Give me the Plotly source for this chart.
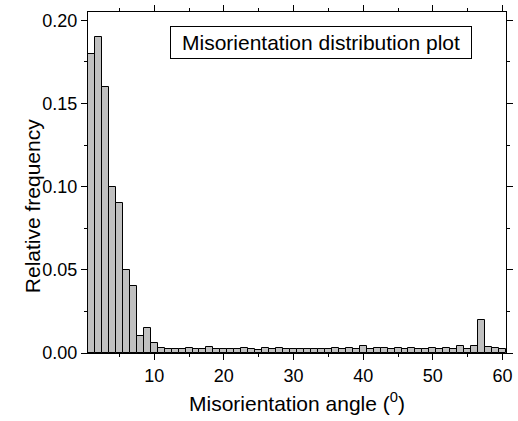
import plotly.graph_objects as go

angles = list(range(1, 61))
frequency = [
    0.18, 0.19, 0.16, 0.10, 0.09, 0.05, 0.04, 0.01, 0.015, 0.006,
    0.0033, 0.0022, 0.0022, 0.0022, 0.003, 0.0022, 0.0022, 0.0035, 0.0022, 0.0022,
    0.0022, 0.0022, 0.003, 0.0022, 0.002, 0.0028, 0.0022, 0.0028, 0.0022, 0.0022,
    0.0022, 0.0022, 0.0022, 0.0022, 0.0022, 0.0033, 0.0022, 0.0033, 0.0022, 0.004,
    0.0022, 0.0028, 0.0028, 0.0022, 0.0028, 0.0022, 0.003, 0.0025, 0.0022, 0.0028,
    0.0022, 0.0028, 0.0022, 0.004, 0.0022, 0.004, 0.02, 0.0038, 0.0033, 0.0022,
]
x_ticks = [10, 20, 30, 40, 50, 60]
y_ticks = [0.00, 0.05, 0.10, 0.15, 0.20]
y_tick_labels = ["0.00", "0.05", "0.10", "0.15", "0.20"]

font = "Liberation Sans, Arial, sans-serif"

fig = go.Figure(go.Bar(
    x=angles, y=frequency, width=1,
    marker=dict(color="#c0c0c0", line=dict(color="black", width=1)),
))

axis_common = dict(
    showline=True, linecolor="black", linewidth=1, mirror="ticks",
    ticks="outside", ticklen=6, tickwidth=1, tickcolor="black",
    showgrid=False, zeroline=False,
    tickfont=dict(family=font, size=18, color="black"),
)

fig.update_xaxes(
    range=[0.5, 60.5], tickvals=x_ticks,
    minor=dict(dtick=5, tick0=0, ticklen=3, ticks="outside", tickcolor="black"),
    **axis_common,
)
fig.update_yaxes(
    range=[0, 0.205], tickvals=y_ticks, ticktext=y_tick_labels,
    minor=dict(dtick=0.025, tick0=0, ticklen=3, ticks="outside", tickcolor="black"),
    **axis_common,
)

title_font = dict(family=font, size=21, color="black")
fig.add_annotation(
    text="Misorientation angle (<sup>0</sup>)", xref="paper", yref="paper",
    x=0.499, y=-0.145, xanchor="center", yanchor="middle", showarrow=False,
    font=title_font,
)
fig.add_annotation(
    text="Relative frequency", xref="paper", yref="paper",
    x=-0.132, y=0.43, xanchor="center", yanchor="middle", showarrow=False,
    textangle=-90, font=title_font,
)

fig.add_annotation(
    text="Misorientation distribution plot", xref="paper", yref="paper",
    x=0.558, y=0.911, xanchor="center", yanchor="middle", showarrow=False,
    font=title_font,
    bordercolor="black", borderwidth=1, borderpad=4, bgcolor="white", width=292,
)

fig.update_layout(
    width=518, height=421,
    margin=dict(l=88, r=5, t=11, b=68),
    paper_bgcolor="white", plot_bgcolor="white",
    bargap=0, showlegend=False,
)

fig.write_html("out.html")
